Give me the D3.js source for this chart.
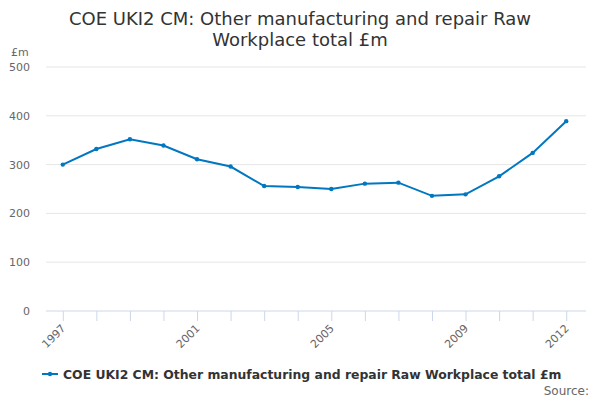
<!DOCTYPE html>
<html>
<head>
<meta charset="utf-8">
<script src="https://cdn.jsdelivr.net/npm/d3@7"></script>
<style>
  body { margin: 0; background: #fff; }
  text { font-family: "DejaVu Sans", sans-serif; }
</style>
</head>
<body>
<svg id="chart" width="600" height="400"></svg>
<script>
const YEARS = ["1997", "1998", "1999", "2000", "2001", "2002", "2003", "2004",
  "2005", "2006", "2007", "2008", "2009", "2010", "2011", "2012"];
const VALUES = [300, 332, 352, 339, 311, 296, 256, 254, 250, 261, 263, 236, 239, 276, 324, 389];
const Y_TICKS = [0, 100, 200, 300, 400, 500];
const X_LABELS = ["1997", "2001", "2005", "2009", "2012"];
const SERIES_NAME = "COE UKI2 CM: Other manufacturing and repair Raw Workplace total £m";

const svg = d3.select("#chart");
const LEFT = 46, RIGHT = 586, TOP = 67, BOTTOM = 311;
const COLOR = "#0077c0";

const X_SCALE = d3.scaleBand().domain(YEARS).range([LEFT, 583]);
const Y_SCALE = d3.scaleLinear().domain([0, 500]).range([BOTTOM, TOP]);
const xPos = year => X_SCALE(year) + X_SCALE.bandwidth() / 2;

// title
svg.append("text")
  .attr("x", 300).attr("y", 25)
  .attr("text-anchor", "middle")
  .attr("font-size", 18).attr("fill", "#333")
  .selectAll("tspan")
  .data(["COE UKI2 CM: Other manufacturing and repair Raw", "Workplace total £m"])
  .enter().append("tspan")
  .attr("x", 300)
  .attr("dy", (d, i) => i ? 21 : 0)
  .text(d => d);

// grid
svg.append("g")
  .selectAll("line")
  .data(Y_TICKS.filter(t => t > 0))
  .enter().append("line")
  .attr("x1", LEFT).attr("x2", RIGHT)
  .attr("y1", d => Y_SCALE(d)).attr("y2", d => Y_SCALE(d))
  .attr("stroke", "#e6e6e6");

// y labels
svg.append("g")
  .selectAll("text")
  .data(Y_TICKS)
  .enter().append("text")
  .attr("x", 30).attr("y", d => Y_SCALE(d) + 4)
  .attr("text-anchor", "end")
  .attr("font-size", 11).attr("fill", "#666")
  .text(d => d);

svg.append("text")
  .attr("x", 11).attr("y", 56)
  .attr("font-size", 11).attr("fill", "#666")
  .text("£m");

// x axis
const X_AXIS = d3.axisBottom(d3.scalePoint().domain(YEARS).range([xPos(YEARS[0]), xPos(YEARS[YEARS.length - 1])]))
  .tickSize(10).tickFormat(d => X_LABELS.includes(d) ? d : "");
const xAxisG = svg.append("g")
  .attr("transform", `translate(0, ${BOTTOM})`)
  .call(X_AXIS);
xAxisG.select(".domain").remove();
xAxisG.append("line")
  .attr("x1", LEFT).attr("x2", RIGHT)
  .attr("stroke", "#ccd6eb");
xAxisG.selectAll(".tick line").attr("stroke", "#ccd6eb");
xAxisG.selectAll(".tick text")
  .attr("font-family", "DejaVu Sans, sans-serif")
  .attr("font-size", 11).attr("fill", "#666")
  .attr("text-anchor", "end")
  .attr("y", 0).attr("dy", 0)
  .attr("transform", "translate(3, 18) rotate(-45)");

// line
const LINE = d3.line().x((d, i) => xPos(YEARS[i])).y(d => Y_SCALE(d));
svg.append("path")
  .datum(VALUES)
  .attr("d", LINE)
  .attr("fill", "none")
  .attr("stroke", COLOR)
  .attr("stroke-width", 2);
svg.append("g")
  .selectAll("circle")
  .data(VALUES)
  .enter().append("circle")
  .attr("cx", (d, i) => xPos(YEARS[i]))
  .attr("cy", d => Y_SCALE(d))
  .attr("r", 2.2)
  .attr("fill", COLOR);

// legend
const legend = svg.append("g").attr("transform", "translate(42, 374)");
legend.append("line").attr("x1", 0).attr("x2", 16).attr("stroke", COLOR).attr("stroke-width", 2);
legend.append("circle").attr("cx", 8).attr("r", 2.2).attr("fill", COLOR);
legend.append("text")
  .attr("x", 21).attr("y", 4.5)
  .attr("font-size", 12.4).attr("font-weight", "bold").attr("fill", "#333")
  .text(SERIES_NAME);

svg.append("text")
  .attr("x", 589).attr("y", 395)
  .attr("text-anchor", "end")
  .attr("font-size", 12).attr("fill", "#666")
  .text("Source:");
</script>
</body>
</html>
